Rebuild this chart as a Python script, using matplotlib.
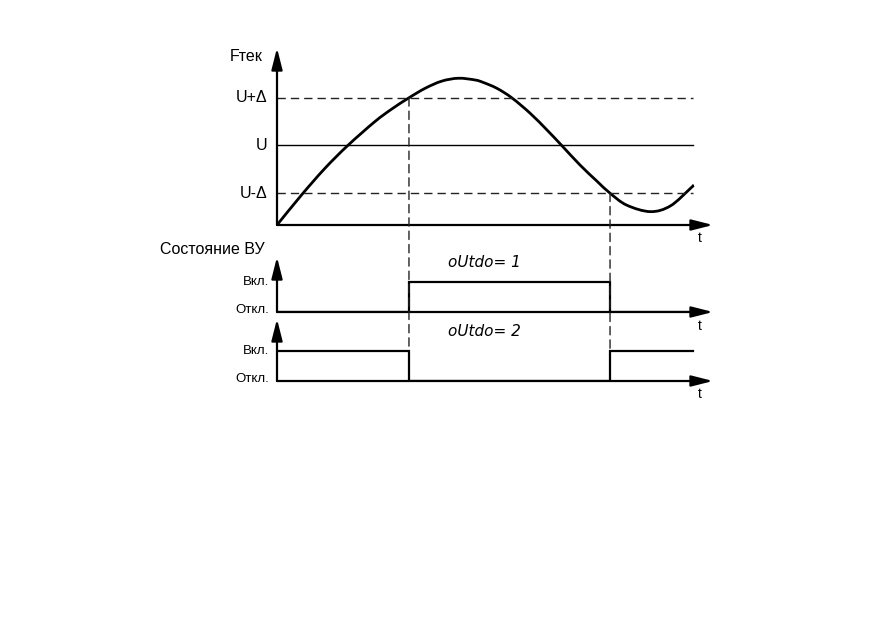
import matplotlib
matplotlib.use('agg')
import matplotlib.pyplot as plt
from matplotlib.patches import ConnectionPatch, PathPatch
from matplotlib.path import Path
import numpy as np

plt.rcParams['font.family'] = ['Liberation Sans', 'DejaVu Sans']

# process value F(t)
t_curve = [0.0, 0.59, 1.15, 1.70, 2.35, 2.76, 3.17, 3.56, 3.96, 4.36,
           4.76, 4.95, 5.28, 5.64, 6.08, 6.48, 6.84, 7.28, 7.68, 8.0,
           8.40, 8.97, 9.45, 9.93, 10.0]
f_curve = [0.0, 1.89, 3.56, 5.0, 6.5, 7.3, 8.0, 8.60, 9.05, 9.23,
           9.12, 8.97, 8.60, 8.0, 7.03, 5.99, 5.0, 3.77, 2.77, 2.0,
           1.25, 0.84, 1.2, 2.3, 2.48]

U = 5.0
DELTA = 3.0
T_END = 10.0           # where the level lines stop
T_ON = 3.17            # F crosses U+delta
T_OFF = 8.0            # F crosses U-delta

# relay states between edges (0 = off, 1 = on)
edges = [0.0, T_ON, T_OFF, T_END]
state_1 = [0, 1, 0]
state_2 = [1, 0, 1]

level_labels = ['U+Δ', 'U', 'U-Δ']
state_labels = ['Вкл.', 'Откл.']

# layout (figure in pixels, one t unit = 41.63 px)
W, H = 872, 618
X0, X1 = 277, 713
T_MAX = (X1 - X0) / 41.63

fig = plt.figure(figsize=(W / 100, H / 100), dpi=100)


def make_axes(top, bottom, ymax):
    ax = fig.add_axes([X0 / W, (H - bottom) / H, (X1 - X0) / W, (bottom - top) / H])
    ax.set_xlim(0, T_MAX)
    ax.set_ylim(0, ymax)
    ax.axis('off')
    arrow = dict(arrowstyle='-|>,head_length=1.3,head_width=0.33', color='black',
                 lw=1.6, shrinkA=0, shrinkB=0, mutation_scale=10)
    ax.annotate('', xy=(0, ymax), xytext=(0, 0), arrowprops=arrow, annotation_clip=False)
    ax.annotate('', xy=(T_MAX, 0), xytext=(0, 0), arrowprops=arrow, annotation_clip=False)
    return ax


def smooth_path(x, y):
    # Catmull-Rom through the read points, drawn as cubic Bezier segments
    p = np.column_stack([x, y])
    ext = np.vstack([p[0], p, p[-1]])
    verts = [p[0]]
    codes = [Path.MOVETO]
    for i in range(len(p) - 1):
        p0, p1, p2, p3 = ext[i], ext[i + 1], ext[i + 2], ext[i + 3]
        verts += [p1 + (p2 - p0) / 6, p2 - (p3 - p1) / 6, p2]
        codes += [Path.CURVE4] * 3
    return Path(verts, codes)


ax1 = make_axes(48, 225, 177 / 15.9)
ax2 = make_axes(257, 312, 55 / 30)
ax3 = make_axes(319, 381, 62 / 30)

dash = dict(color='#222222', lw=1.0, dashes=(6, 3.6))
txt = dict(fontsize=11.5, va='center', clip_on=False)

# top panel
ax1.plot([0, T_END], [U + DELTA, U + DELTA], **dash)
ax1.plot([0, T_END], [U - DELTA, U - DELTA], **dash)
ax1.plot([0, T_END], [U, U], color='black', lw=1.0)
ax1.add_patch(PathPatch(smooth_path(t_curve, f_curve), facecolor='none',
                        edgecolor='black', lw=2.0, capstyle='round'))
for lab, lev in zip(level_labels, [U + DELTA, U, U - DELTA]):
    ax1.text(-0.24, lev, lab, ha='right', **txt)
ax1.text(-0.34, 10.57, 'Fтек', ha='right', **txt)
ax1.text(10.16, -0.82, 't', ha='center', fontsize=10, va='center')

# relay state panels
for ax, st, name in [(ax2, state_1, 'oUtdo= 1'), (ax3, state_2, 'oUtdo= 2')]:
    xs = np.repeat(edges, 2)[1:-1]
    ys = np.repeat(st, 2)
    ax.plot(xs, ys, color='black', lw=1.6, solid_joinstyle='miter')
    ax.text(-0.19, 1.0, state_labels[0], ha='right', fontsize=9.5, va='center')
    ax.text(-0.19, 0.08, state_labels[1], ha='right', fontsize=9.5, va='center')
    ax.text(10.16, -0.45, 't', ha='center', fontsize=10, va='center')
    ax.text(4.11, 1.65, name, ha='left', fontsize=11, style='italic',
            family='DejaVu Sans', va='center')

ax2.text(-2.81, 2.07, 'Состояние ВУ', ha='left', **txt)

# dashed links from the threshold crossings down to the state panels
for t_x, lev in [(T_ON, U + DELTA), (T_OFF, U - DELTA)]:
    con = ConnectionPatch(xyA=(t_x, lev), coordsA=ax1.transData,
                          xyB=(t_x, 1.0), coordsB=ax3.transData,
                          color='#222222', lw=1.0, linestyle=(0, (6, 3.6)))
    fig.add_artist(con)

fig.savefig('out.png', dpi=100)
